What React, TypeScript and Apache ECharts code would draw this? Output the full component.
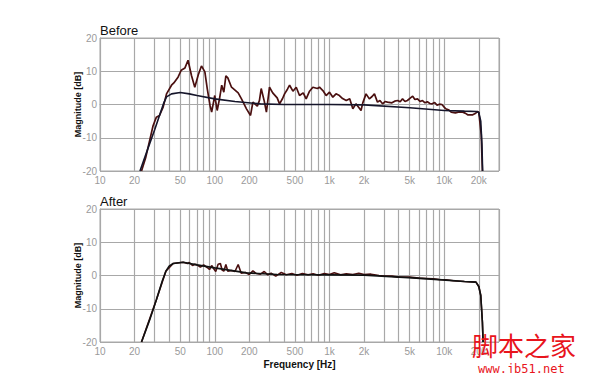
import React, { useEffect, useRef } from "react";
import * as echarts from "echarts";

// Tick values
const xLabelValues = [10, 20, 50, 100, 200, 500, 1000, 2000, 5000, 10000, 20000];
const xGridValues = [
  10, 20, 30, 40, 50, 60, 70, 80, 90, 100, 200, 300, 400, 500, 600, 700, 800, 900,
  1000, 2000, 3000, 4000, 5000, 6000, 7000, 8000, 9000, 10000, 20000, 30000,
];

// Before: measured response
const beforeMeasFreq = [
  23, 25, 27, 29, 31, 33, 35.5, 38, 42, 44, 48, 51, 55, 58.5, 62.6, 67, 72, 76.6, 82, 86, 91, 94,
  100, 105, 110, 115, 120, 125, 130, 140, 160, 171, 189, 205, 215, 235, 245, 254, 270, 282, 300,
  320, 350, 367, 390, 406, 430, 449, 480, 513, 548, 590, 626, 670, 716, 785, 818, 875, 935, 1000,
  1070, 1140, 1220, 1300, 1400, 1500, 1597, 1700, 1883, 1950, 2082, 2225, 2350, 2464, 2620, 2750,
  2900, 3050, 3200, 3500, 3700, 3928, 4130, 4330, 4550, 4770, 5050, 5308, 5550, 5850, 6150, 6460,
  6800, 7120, 7500, 7850, 8250, 8650, 9100, 9540, 10300, 11000, 11500, 12500, 13500, 14500, 15200,
  16000, 17700, 18800, 19500, 20000, 21000, 21500,
];
const beforeMeasDb = [
  -20, -16, -11, -6.4, -3.8, -3.3, -0.8, 3.2, 5.8, 6.5, 8.3, 10.3, 11, 13.3, 8.8, 5.2, 9, 11.6, 9.8,
  4.8, -0.3, -2.3, 2.7, -1.8, 1.7, 5.8, 3.7, 8.6, 8, 5.2, 3.5, 1.7, -1.3, -3.3, 0.7, -0.5, 1.2, 4.8,
  1, -2.3, 5.2, 3.5, 2, 0.2, 1.8, 3.2, 4.6, 5.8, 4, 5.2, 2.7, 3.5, 1.7, 4, 5.2, 4.8, 5.2, 4.2, 2.7,
  3.7, 2.2, 3.2, 2.7, 1.8, 1.2, 1.7, -1.3, 0.2, -1.8, 0.5, 3.2, 1.7, 2.4, 3.2, 0.7, 1.2, 0.2, 0.9,
  0.7, 0.5, 1.0, 1.2, 0.8, 1.7, 0.9, 1.2, 1.9, 2.5, 1.5, 1.7, 0.9, 1.2, 0.5, 0.8, 0.3, 0.2, 0.6, -0.2,
  0.1, 0, -1.3, -1.7, -2.3, -2.5, -2.2, -2.3, -2.6, -3.1, -3.1, -2.6, -2.1, -2.3, -9, -20,
];

// Before: target curve
const beforeTargetFreq = [
  22.3, 26, 30, 33, 36, 38, 42, 50, 60, 70, 100, 150, 250, 400, 1000, 2000, 5000, 10000, 15000,
  19000, 20000, 20800, 21300, 21600,
];
const beforeTargetDb = [
  -20, -13.5, -7.5, -3.3, 0.5, 2.3, 3.2, 3.6, 3.2, 2.7, 1.7, 0.9, 0.2, 0, 0, -0.1, -1.0, -1.8, -2.0,
  -2.1, -2.4, -5, -12, -20,
];

// After: measured response
const afterMeasFreq = [
  23, 31, 37.5, 43.4, 53, 58, 60, 64, 67, 70, 75, 80, 86, 90, 94, 98, 102, 107, 112, 116, 120, 125,
  130, 140, 150, 160, 170, 185, 200, 215, 230, 250, 270, 290, 310, 340, 380, 420, 470, 520, 580, 650,
  720, 800, 900, 1000, 1100, 1250, 1400, 1600, 1800, 2000, 2300, 2700, 3000, 3500, 4000, 5000, 6000,
  7000, 8000, 9000, 10300, 12000, 15000, 18900, 20000, 20800, 21500, 21800,
];
const afterMeasDb = [
  -20, -7.3, 1.3, 3.6, 4, 3.6, 3.9, 3, 3.4, 3.2, 2.5, 3.2, 2.4, 1.8, 3.0, 2.0, 1.2, 3.4, 3.6, 1.6,
  1.3, 3.3, 1.3, 1.5, 1.2, 3.3, 0.7, 0.9, 0.3, 1.4, 0.6, 0.4, 1.2, 0.2, 0.7, -0.2, 0.9, 0.2, 0.6, 0.1,
  0.6, 0.2, 0.5, 0.1, 0.6, 0.3, 0.8, 0.2, 0.5, 0.3, 0.7, 0.3, 0.4, 0.0, -0.2, -0.2, -0.5, -0.5, -0.8,
  -0.9, -1.0, -1.2, -1.3, -1.6, -1.8, -2, -3.3, -6, -14, -20,
];

// After: target curve
const afterTargetFreq = [
  23, 27, 31, 35, 37.5, 40, 43.4, 53, 70, 100, 189, 350, 1000, 2000, 5300, 10300, 15000, 18900, 20000,
  20800, 21500, 21800,
];
const afterTargetDb = [
  -20, -13.5, -7.3, -1.5, 1.3, 2.8, 3.6, 4, 3.2, 2.3, 0.8, 0.3, 0.2, 0.1, -0.7, -1.4, -1.8, -2, -3.3,
  -6, -14, -20,
];

const pair = (f: number[], d: number[]) => f.map((v, i) => [v, d[i]]);

const GRID = "#a8a8a8";
const LABEL = "#9a9a9a";
const FONT = "Liberation Sans, Arial, sans-serif";

const fmtFreq = (v: number) => (v >= 1000 ? `${Math.round(v / 1000)}k` : `${v}`);

function xAxisFor(gridIndex: number, withName: boolean) {
  return {
    type: "log",
    logBase: 10,
    gridIndex,
    min: 10,
    max: 30000,
    name: withName ? "Frequency [Hz]" : "",
    nameLocation: "middle",
    nameGap: 17,
    nameTextStyle: { color: "#111", fontSize: 10, fontWeight: "bold", fontFamily: FONT },
    axisLine: { show: true, lineStyle: { color: GRID, width: 1 } },
    axisTick: { show: false, customValues: xGridValues },
    axisLabel: {
      customValues: xLabelValues,
      color: LABEL,
      fontSize: 10,
      fontFamily: FONT,
      margin: 4,
      formatter: (v: number) => fmtFreq(v),
    },
    splitLine: { show: true, lineStyle: { color: GRID, width: 1.2 } },
    minorTick: { show: false },
    minorSplitLine: { show: false },
  };
}

function yAxisFor(gridIndex: number) {
  return {
    type: "value",
    gridIndex,
    min: -20,
    max: 20,
    interval: 10,
    name: "Magnitude [dB]",
    nameLocation: "middle",
    nameGap: 18,
    nameMoveOverlap: false,
    nameTextStyle: { color: "#111", fontSize: 9, fontWeight: "bold", fontFamily: FONT },
    axisLine: { show: true, lineStyle: { color: GRID, width: 1 } },
    axisTick: { show: false },
    axisLabel: { color: LABEL, fontSize: 10, fontFamily: FONT, margin: 3 },
    splitLine: { show: true, lineStyle: { color: GRID, width: 1.2 } },
  };
}

function lineSeries(idx: number, data: number[][], color: string, width: number, z: number) {
  return {
    type: "line",
    xAxisIndex: idx,
    yAxisIndex: idx,
    data,
    showSymbol: false,
    symbol: "none",
    lineStyle: { color, width },
    z,
  };
}

export default function App() {
  const ref = useRef<HTMLDivElement>(null);
  useEffect(() => {
    if (!ref.current) return;
    const chart = echarts.init(ref.current, null, { renderer: "svg" });
    chart.setOption({
      animation: false,
      backgroundColor: "#ffffff",
      textStyle: { fontFamily: FONT },
      title: [
        {
          text: "Before",
          left: 95,
          top: 19,
          textStyle: { fontSize: 13, fontWeight: "normal", color: "#111", fontFamily: FONT },
        },
        {
          text: "After",
          left: 95,
          top: 190,
          textStyle: { fontSize: 13, fontWeight: "normal", color: "#111", fontFamily: FONT },
        },
      ],
      grid: [
        { left: 100, top: 38, width: 399, height: 133, show: true, borderColor: GRID, borderWidth: 1 },
        { left: 100, top: 209, width: 399, height: 133, show: true, borderColor: GRID, borderWidth: 1 },
      ],
      xAxis: [xAxisFor(0, false), xAxisFor(1, true)],
      yAxis: [yAxisFor(0), yAxisFor(1)],
      series: [
        lineSeries(0, pair(beforeMeasFreq, beforeMeasDb), "#4a1010", 1.7, 3),
        lineSeries(0, pair(beforeTargetFreq, beforeTargetDb), "#15152a", 1.6, 4),
        lineSeries(1, pair(afterMeasFreq, afterMeasDb), "#4a1010", 1.6, 3),
        lineSeries(1, pair(afterTargetFreq, afterTargetDb), "#111111", 1.6, 4),
      ],
      graphic: [
        {
          type: "text",
          left: 472,
          top: 331,
          z: 100,
          style: {
            text: "脚本之家",
            fill: "#e8141c",
            fontSize: 26,
            fontFamily: "Noto Sans CJK SC",
          },
        },
        {
          type: "text",
          left: 478,
          top: 363,
          z: 100,
          style: {
            text: "www.jb51.net",
            fill: "#e8141c",
            fontSize: 12,
            fontFamily: "DejaVu Sans Mono, monospace",
          },
        },
      ],
    });
    return () => chart.dispose();
  }, []);
  return <div ref={ref} style={{ width: 600, height: 381, margin: -8 }} />;
}
